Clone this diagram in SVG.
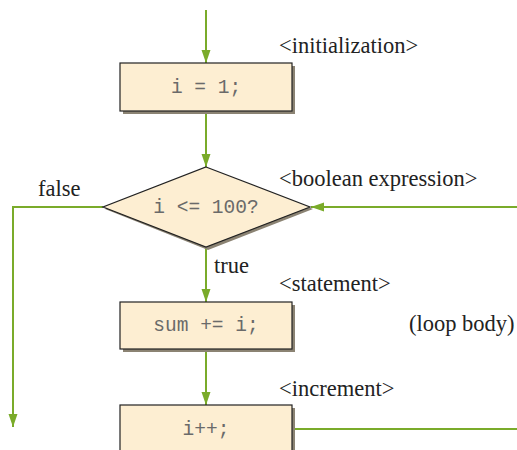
<svg xmlns="http://www.w3.org/2000/svg" width="517" height="450" viewBox="0 0 517 450">
<defs>
<marker id="ah" viewBox="0 0 13 10" refX="13" refY="5" markerWidth="13" markerHeight="10" markerUnits="userSpaceOnUse" orient="auto">
<path d="M0,0.5 L13,5 L0,9.5 Z" fill="#7aab2a"/>
</marker>
<style>
.box{fill:#fdeed2;stroke:#222;stroke-width:1.2}
.sh{fill:#8b8373}
.code{font-family:"Liberation Mono",monospace;font-size:19.5px;fill:#6a6a6a;text-anchor:middle}
.lbl{font-family:"Liberation Serif",serif;font-size:22.5px;fill:#222}
.ln{stroke:#7aab2a;stroke-width:2;fill:none}
</style>
</defs>
<g id="connectors">
<line class="ln" x1="206" y1="10" x2="206" y2="63" marker-end="url(#ah)"/>
<line class="ln" x1="206" y1="112" x2="206" y2="167" marker-end="url(#ah)"/>
<line class="ln" x1="206" y1="248" x2="206" y2="302" marker-end="url(#ah)"/>
<line class="ln" x1="206" y1="351" x2="206" y2="405" marker-end="url(#ah)"/>
<polyline class="ln" points="103,207 13,207 13,427" marker-end="url(#ah)"/>
<line class="ln" x1="517" y1="207" x2="311" y2="207" marker-end="url(#ah)"/>
<line class="ln" x1="295" y1="429" x2="517" y2="429"/>
</g>
<g id="init">
<rect class="sh" x="123" y="66" width="172" height="48"/>
<rect class="box" x="120" y="63" width="172" height="48"/>
<text class="code" x="206" y="93">i = 1;</text>
</g>
<g id="cond">
<polygon class="sh" points="208,169 313,209 208,250 105,209"/>
<polygon class="box" points="206,167 310,207 206,247 103,207"/>
<text class="code" x="206" y="213">i &lt;= 100?</text>
</g>
<g id="stmt">
<rect class="sh" x="123" y="305" width="172" height="47"/>
<rect class="box" x="120" y="302" width="172" height="47"/>
<text class="code" x="206" y="331">sum += i;</text>
</g>
<g id="incr">
<rect class="sh" x="123" y="408" width="172" height="47"/>
<rect class="box" x="120" y="405" width="172" height="47"/>
<text class="code" x="206" y="435">i++;</text>
</g>
<g id="labels">
<text class="lbl" x="279" y="53">&lt;initialization&gt;</text>
<text class="lbl" x="279" y="186">&lt;boolean expression&gt;</text>
<text class="lbl" x="38" y="196">false</text>
<text class="lbl" x="214" y="273">true</text>
<text class="lbl" x="279" y="291">&lt;statement&gt;</text>
<text class="lbl" x="409" y="331">(loop body)</text>
<text class="lbl" x="279" y="396">&lt;increment&gt;</text>
</g>
</svg>
